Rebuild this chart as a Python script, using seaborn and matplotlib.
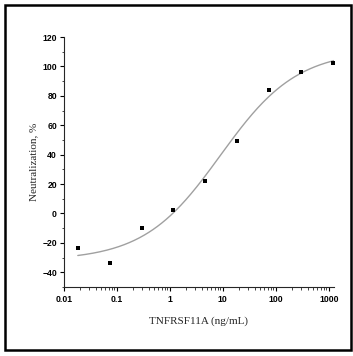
import matplotlib
matplotlib.use("Agg")
import matplotlib.pyplot as plt
import matplotlib.patches as mpatches
from matplotlib.ticker import LogLocator, FixedLocator, MultipleLocator, FuncFormatter
import seaborn as sns
import numpy as np
import pandas as pd

# measured points (4-fold dilution series)
conc = [0.0183, 0.0732, 0.293, 1.17, 4.69, 18.75, 75, 300, 1200]
neutralization = [-23.3, -33.4, -10.0, 2.5, 22.4, 49.3, 84.1, 96.3, 102.0]

# 4PL fit parameters
fit_bottom = -32
fit_top = 111
fit_ec50 = 9.0
fit_hill = 0.6

y_ticks = [-40, -20, 0, 20, 40, 60, 80, 100, 120]
x_ticks = [0.01, 0.1, 1, 10, 100, 1000]
x_tick_labels = ["0.01", "0.1", "1", "10", "100", "1000"]

sns.set_style("ticks")
plt.rcParams["font.family"] = ["Liberation Sans", "DejaVu Sans"]

fig = plt.figure(figsize=(3.53, 3.56), dpi=100)
ax = fig.add_axes([0.181, 0.194, 0.765, 0.702])

# fitted curve
xs = np.logspace(np.log10(conc[0]), np.log10(1250), 300)
ys = fit_bottom + (fit_top - fit_bottom) / (1 + (fit_ec50 / xs) ** fit_hill)
curve = pd.DataFrame({"x": xs, "y": ys})
sns.lineplot(data=curve, x="x", y="y", color="#a0a0a0", linewidth=1.0, ax=ax)

pts = pd.DataFrame({"conc": conc, "neut": neutralization})
sns.scatterplot(data=pts, x="conc", y="neut", marker="s", s=11, color="black",
                edgecolor="black", linewidth=0, ax=ax, zorder=3)

ax.set_xscale("log")
ax.set_xlim(0.01, 1250)
ax.set_ylim(-50, 120)

ax.xaxis.set_major_locator(FixedLocator(x_ticks))
ax.xaxis.set_major_formatter(FuncFormatter(lambda v, p: x_tick_labels[x_ticks.index(v)] if v in x_ticks else ""))
ax.xaxis.set_minor_locator(LogLocator(base=10, subs=np.arange(2, 10)))
ax.yaxis.set_major_locator(FixedLocator(y_ticks))
ax.yaxis.set_minor_locator(MultipleLocator(10))

ax.tick_params(axis="both", which="major", direction="out", length=3, width=0.8,
               labelsize=6.2, pad=2, colors="black")
ax.tick_params(axis="x", which="major", pad=3)
ax.tick_params(axis="both", which="minor", direction="out", length=1.8, width=0.6)
for lab in ax.get_xticklabels() + ax.get_yticklabels():
    lab.set_fontweight("bold")

sns.despine(ax=ax)
ax.spines["left"].set_linewidth(0.8)
ax.spines["bottom"].set_linewidth(0.8)

ax.set_xlabel("TNFRSF11A (ng/mL)", fontsize=8, family="Liberation Serif", labelpad=9)
ax.set_ylabel("Neutralization, %", fontsize=8, family="Liberation Serif", labelpad=3)

# outer frame around the picture
frame = mpatches.Rectangle((5 / 353, 6 / 356), 346 / 353, 345 / 356, transform=fig.transFigure,
                           fill=False, edgecolor="black", linewidth=1.8)
fig.patches.append(frame)

fig.savefig("out.png", dpi=100)
